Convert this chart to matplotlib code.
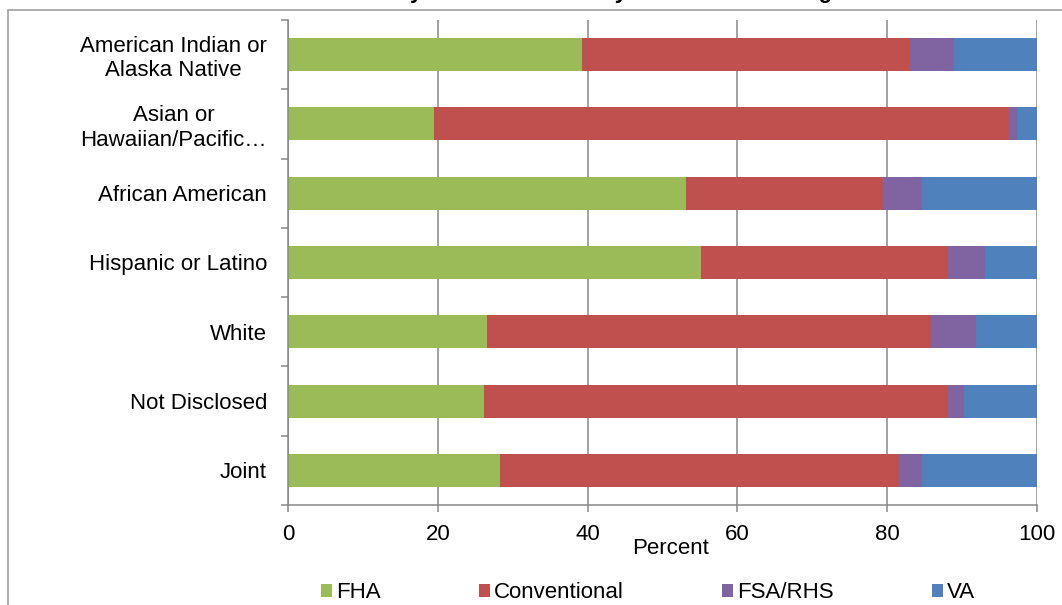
import numpy as np
import matplotlib
matplotlib.use("Agg")
import matplotlib.pyplot as plt
from matplotlib.patches import Rectangle

plt.rcParams['font.family'] = ['Liberation Sans', 'DejaVu Sans']

# Share of loans (%) by borrower group, top to bottom
groups = ["American Indian or\nAlaska Native",
          "Asian or\nHawaiian/Pacific…",
          "African American",
          "Hispanic or Latino",
          "White",
          "Not Disclosed",
          "Joint"]
fha = [39.2, 19.5, 53.1, 55.1, 26.6, 26.2, 28.3]
conventional = [43.8, 76.8, 26.4, 33.0, 59.2, 61.9, 53.3]
fsa_rhs = [5.9, 1.0, 5.1, 5.0, 6.0, 2.2, 3.0]
va = [11.1, 2.7, 15.4, 6.9, 8.2, 9.7, 15.4]

series = [("FHA", fha, "#9BBB59"),
          ("Conventional", conventional, "#C0504D"),
          ("FSA/RHS", fsa_rhs, "#8064A2"),
          ("VA", va, "#4F81BD")]

W, H = 1062, 605
fig = plt.figure(figsize=(W / 100, H / 100), dpi=100)
ax = fig.add_axes([288 / W, 1 - 505 / H, (1037 - 288) / W, (505 - 20) / H])

grid_col = "#878787"
fs = 16

y = np.arange(len(groups))
left = np.zeros(len(groups))
for name, vals, col in series:
    ax.barh(y, vals, left=left, height=0.476, color=col, label=name,
            edgecolor="none", zorder=2)
    left += np.array(vals)

ax.set_xlim(0, 100)
ax.set_ylim(len(groups) - 0.5, -0.5)
ax.set_xticks(np.arange(0, 101, 20))
ax.tick_params(axis="x", labelsize=fs, length=5, width=1.1, color=grid_col,
               pad=9)

# tick marks sit between categories, labels sit at bar centres
ax.set_yticks(np.arange(-0.5, len(groups), 1.0))
ax.set_yticklabels([])
ax.set_yticks(y, minor=True)
ax.set_yticklabels(groups, minor=True, fontsize=fs, multialignment="center")
ax.tick_params(axis="y", which="major", length=5, width=1.1, color=grid_col)
ax.tick_params(axis="y", which="minor", length=0, pad=15)

ax.xaxis.grid(True, color=grid_col, linewidth=1.1)
ax.set_axisbelow(True)
for s in ("top", "right"):
    ax.spines[s].set_visible(False)
for s in ("left", "bottom"):
    ax.spines[s].set_color(grid_col)
    ax.spines[s].set_linewidth(1.1)

ax.set_xlabel("Percent", fontsize=fs)
ax.xaxis.set_label_coords((671 - 288) / (1037 - 288), -33 / 485)

fig.legend(loc="center", bbox_to_anchor=(648 / W, 1 - 593 / H), ncol=4,
           frameon=False, fontsize=fs, handlelength=0.5, handleheight=0.5,
           handletextpad=0.2, columnspacing=4.4)

# outer chart frame and the clipped title above it
fig.patches.append(Rectangle((8 / W, -0.05), 1.1, 1 - 10 / H + 0.05,
                             transform=fig.transFigure, fill=False,
                             edgecolor="#A0A0A0", linewidth=1.2))
fig.text(565 / W, 1 + 2 / H,
         "Home Purchase Loans by Race and Ethnicity Across Market Segments in 2010",
         ha="center", va="baseline", fontsize=fs, fontweight="bold")

fig.savefig("out.png", dpi=100)
